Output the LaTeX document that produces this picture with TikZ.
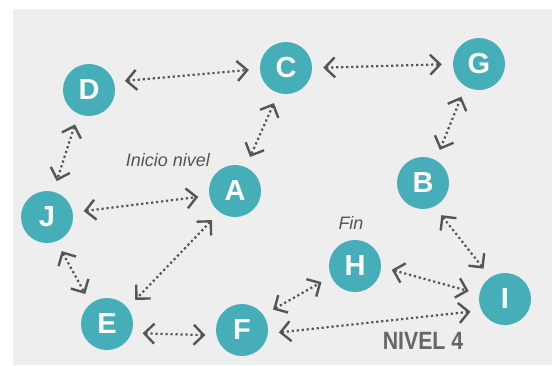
\documentclass[tikz,border=0pt]{standalone}
\usepackage{fontspec}
\setmainfont{Liberation Sans}
\usetikzlibrary{arrows.meta}
\definecolor{panel}{HTML}{EEEEEE}
\definecolor{tile}{HTML}{45AEB9}
\definecolor{ink}{HTML}{555555}

\begin{document}
\begin{tikzpicture}[x=1pt, y=-1pt,
    n/.style={circle, fill=tile, minimum size=52pt, inner sep=0pt, text=white,
              font=\fontsize{29}{29}\selectfont\bfseries},
    lk/.style={ink, line width=2.2pt, dash pattern=on 2.2pt off 2.8pt,
               {Straight Barb[length=10pt,width=20pt,line width=2.4pt]}-{Straight Barb[length=10pt,width=20pt,line width=2.4pt]},
               shorten <=11pt, shorten >=11pt},
    note/.style={ink, font=\fontsize{18}{18}\selectfont\itshape}]
    \useasboundingbox (0,0) rectangle (560,365);
    \fill[panel] (13,9) rectangle (552,365);

    \node[note] (start) at (168,160) {Inicio nivel};
    \node[note] (goal) at (351,223) {Fin};
    \node[ink!90, font=\fontsize{25}{25}\selectfont\bfseries] (level) at (423,341) {\scalebox{0.85}[1]{NIVEL 4}};

    \node[n] (D) at (89,90)   {D};
    \node[n] (C) at (286,68)  {C};
    \node[n] (G) at (479,64)  {G};
    \node[n] (B) at (423,183) {B};
    \node[n] (A) at (235,191) {A};
    \node[n] (J) at (47,217)  {J};
    \node[n] (H) at (355,266) {H};
    \node[n] (I) at (505,299) {I};
    \node[n] (E) at (107,324) {E};
    \node[n] (F) at (242,330) {F};

    \draw[lk] (D.18)  -- (C.182);
    \draw[lk] (C.0)   -- (G.180);
    \draw[lk] (C.253) -- (A.66);
    \draw[lk] (G.239) -- (B.61);
    \draw[lk] (D.246) -- (J.76);
    \draw[lk] (J.10)  -- (A.190);
    \draw[lk] (J.291) -- (E.129);
    \draw[lk] (A.234) -- (E.38);
    \draw[lk] (E.340) -- (F.192);
    \draw[lk] (F.35)  -- (H.204);
    \draw[lk] (H.358) -- (I.169);
    \draw[lk] (F.352) -- (I.206);
    \draw[lk] (B.296) -- (I.124);
  \end{tikzpicture}
\end{document}
